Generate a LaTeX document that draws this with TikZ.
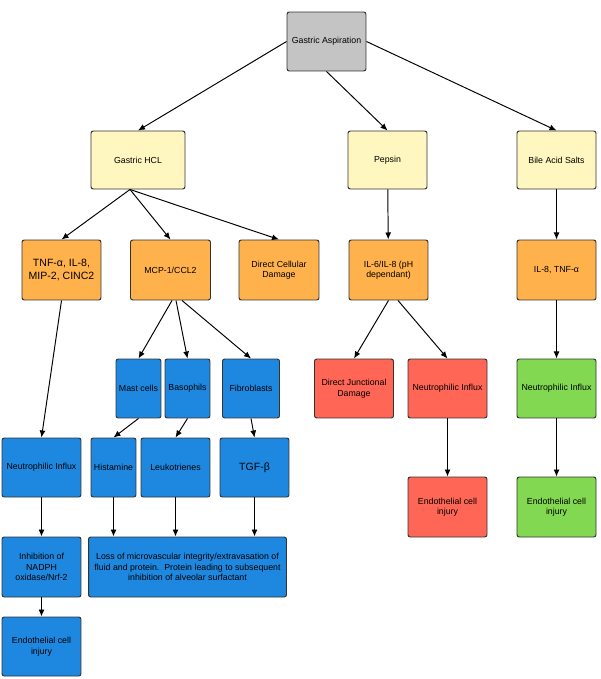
\documentclass[tikz,border=0pt]{standalone}
\usepackage{fontspec}
\setmainfont{Liberation Sans}
\usetikzlibrary{shapes,arrows.meta}
\definecolor{aspgray}{HTML}{C4C4C4}
\definecolor{srcyellow}{HTML}{FFF6C0}
\definecolor{medorange}{HTML}{FFB24C}
\definecolor{cellblue}{HTML}{1E88E0}
\definecolor{injred}{HTML}{FF6655}
\definecolor{injgreen}{HTML}{82D850}
\tikzset{
	box/.style={draw=black!80, line width=0.55pt, rounded corners=1.3pt, align=center, inner sep=0pt,
		font=\fontsize{5}{6}\selectfont, minimum width=1.58cm, minimum height=1.18cm},
	bigtext/.style={font=\fontsize{6}{7}\selectfont},
	link/.style={->, line width=0.55pt}
}

\begin{document}
\begin{tikzpicture}[x=0.02cm, y=-0.02cm, >={Latex[length=4pt,width=3.4pt]}]
				\useasboundingbox (0,0) rectangle (600,679);
				\node[box, fill=aspgray] (asp) at (326.5,41.5) {Gastric Aspiration};
				\node[box, fill=srcyellow, minimum width=1.88cm, minimum height=1.16cm] (hcl) at (138,160) {Gastric HCL};
				\node[box, fill=srcyellow, minimum height=1.16cm] (pep) at (387.5,160) {Pepsin};
				\node[box, fill=srcyellow, minimum height=1.16cm] (bile) at (556.5,160) {Bile Acid Salts};
				\node[box, bigtext, fill=medorange, minimum height=1.2cm] (tnf) at (61.5,270) {TNF-α, IL-8,\\MIP-2, CINC2};
				\node[box, fill=medorange, minimum width=1.6cm, minimum height=1.2cm] (mcp) at (170.5,270) {MCP-1/CCL2};
				\node[box, fill=medorange, minimum width=1.6cm, minimum height=1.2cm] (dcd) at (279,270) {Direct Cellular\\Damage};
				\node[box, fill=medorange, minimum height=1.2cm] (il6) at (388.5,270) {IL-6/IL-8 (pH\\dependant)};
				\node[box, fill=medorange, minimum height=1.2cm] (il8) at (556.5,270) {IL-8, TNF-α};
				\node[box, fill=cellblue, minimum width=0.9cm] (mast) at (138.5,388.5) {Mast cells};
				\node[box, fill=cellblue, minimum width=0.9cm] (baso) at (187.5,388.5) {Basophils};
				\node[box, fill=cellblue, minimum width=1.14cm] (fibro) at (251,388.5) {Fibroblasts};
				\node[box, fill=injred] (djd) at (354,388.5) {Direct Junctional\\Damage};
				\node[box, fill=injred] (neur) at (447.5,388.5) {Neutrophilic Influx};
				\node[box, fill=injgreen] (neug) at (556.5,388.5) {Neutrophilic Influx};
				\node[box, fill=cellblue] (neub) at (41.5,467.5) {Neutrophilic Influx};
				\node[box, fill=cellblue, minimum width=0.9cm] (hist) at (113.5,467.5) {Histamine};
				\node[box, fill=cellblue, minimum width=1.38cm] (leuk) at (175.5,467.5) {Leukotrienes};
				\node[box, bigtext, fill=cellblue, minimum width=1.38cm] (tgf) at (254.5,467.5) {TGF-β};
				\node[box, fill=injred, minimum height=1.2cm] (endr) at (447.5,507) {Endothelial cell\\injury};
				\node[box, fill=injgreen, minimum height=1.2cm] (endg) at (556.5,507) {Endothelial cell\\injury};
				\node[box, fill=cellblue, minimum height=1.2cm] (nadph) at (41.5,567) {Inhibition of\\NADPH\\oxidase/Nrf-2};
				\node[box, fill=cellblue, minimum width=3.96cm, minimum height=1.2cm] (loss) at (187.5,567) {Loss of microvascular integrity/extravasation of\\fluid and protein.\ \ Protein leading to subsequent\\inhibition of alveolar surfactant};
				\node[box, fill=cellblue] (endb) at (41.5,646.5) {Endothelial cell\\injury};
				\draw[link] (asp.west) -- (hcl.north);
				\draw[link] (asp.south) -- (pep.north);
				\draw[link] (asp.east) -- (bile.north);
				\draw[link] ([xshift=-0.16cm]hcl.south) -- (tnf.north);
				\draw[link] ([xshift=-0.16cm]hcl.south) -- (mcp.north);
				\draw[link] ([xshift=-0.16cm]hcl.south) -- (dcd.north);
				\draw[link] (pep) -- (il6);
				\draw[link] (bile) -- (il8);
				\draw[link] (tnf.south) -- (neub.north);
				\draw[link] ([xshift=0.03cm]mcp.south) -- (mast.north);
				\draw[link] ([xshift=0.11cm]mcp.south) -- (baso.north);
				\draw[link] ([xshift=0.23cm]mcp.south) -- (fibro.north);
				\draw[link] (il6.south) -- (djd.north);
				\draw[link] ([xshift=0.19cm]il6.south) -- (neur.north);
				\draw[link] (il8) -- (neug);
				\draw[link] (mast.south) -- (hist.north);
				\draw[link] (baso.south) -- (leuk.north);
				\draw[link] (fibro.south) -- (tgf.north);
				\draw[link] (neur) -- (endr);
				\draw[link] (neug) -- (endg);
				\draw[link] (neub) -- (nadph);
				\draw[link] (nadph) -- (endb);
				\draw[link] (hist.south) -- (hist.south |- loss.north);
				\draw[link] (leuk.south) -- (leuk.south |- loss.north);
				\draw[link] (tgf.south) -- (tgf.south |- loss.north);
			\end{tikzpicture}
\end{document}
